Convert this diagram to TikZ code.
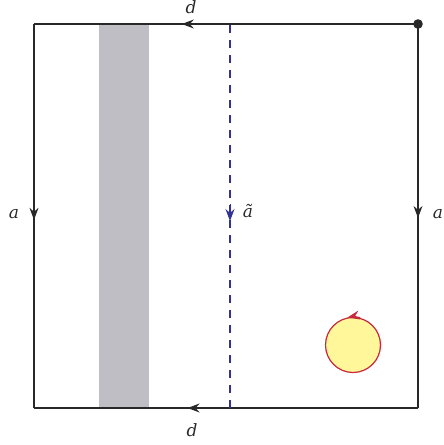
\documentclass[tikz,border=0pt]{standalone}
\usepackage{fontspec}
\setmainfont{DejaVu Serif}
\usetikzlibrary{arrows.meta,decorations.markings}
\definecolor{edge}{RGB}{40,40,40}
\definecolor{dashblue}{RGB}{50,50,150}
\definecolor{band}{RGB}{190,190,196}
\definecolor{discfill}{RGB}{255,247,153}
\definecolor{discedge}{RGB}{200,40,60}
\tikzset{
  tip/.tip={Stealth[length=12pt,width=9pt,inset=4pt]},
  side/.style={draw=edge, line width=1.3pt},
  midarrow/.style={postaction={decorate}, decoration={markings, mark=at position #1 with {\arrow{tip}}}},
  lab/.style={font=\fontsize{17}{19}\selectfont\itshape, text=edge, inner sep=0pt},
}
\begin{document}
\begin{tikzpicture}[x=1pt,y=-1pt]
\useasboundingbox (0,0) rectangle (444,445);
\coordinate (tl) at (34,24);
\coordinate (tr) at (418,24);
\coordinate (bl) at (34,408);
\coordinate (br) at (418,408);
\coordinate (mt) at (230,24);
\coordinate (mb) at (230,408);
\fill[band] (99,24) rectangle (149,408);
\draw[side, midarrow=0.615] (tr) -- (tl);
\draw[side, midarrow=0.60] (br) -- (bl);
\draw[side, midarrow=0.51] (tl) -- (bl);
\draw[side, midarrow=0.505] (tr) -- (br);
\draw[dashblue, line width=2pt, dash pattern=on 8pt off 7pt, dash phase=-1pt] (mt) -- (mb);
\draw[dashblue, line width=1pt, -{tip}] (230,204) -- (230,221);
\fill[edge] (tr) circle (4.8);
\node[circle, draw=discedge, fill=discfill, line width=1.2pt, minimum size=55pt, inner sep=0pt] (disc) at (353,345) {};
\draw[discedge, line width=1.4pt, -{Stealth[length=12pt,width=9pt,inset=4pt]}] (disc.75) arc[start angle=-75, end angle=-102, radius=27.5];
\node[lab] (dt) at (191,7) {d};
\node[lab] (db) at (192,430) {d};
\node[lab] (al) at (14,214) {a};
\node[lab] (ar) at (438,214) {a};
\node[lab] (at) at (248,211) {ã};
\end{tikzpicture}
\end{document}
